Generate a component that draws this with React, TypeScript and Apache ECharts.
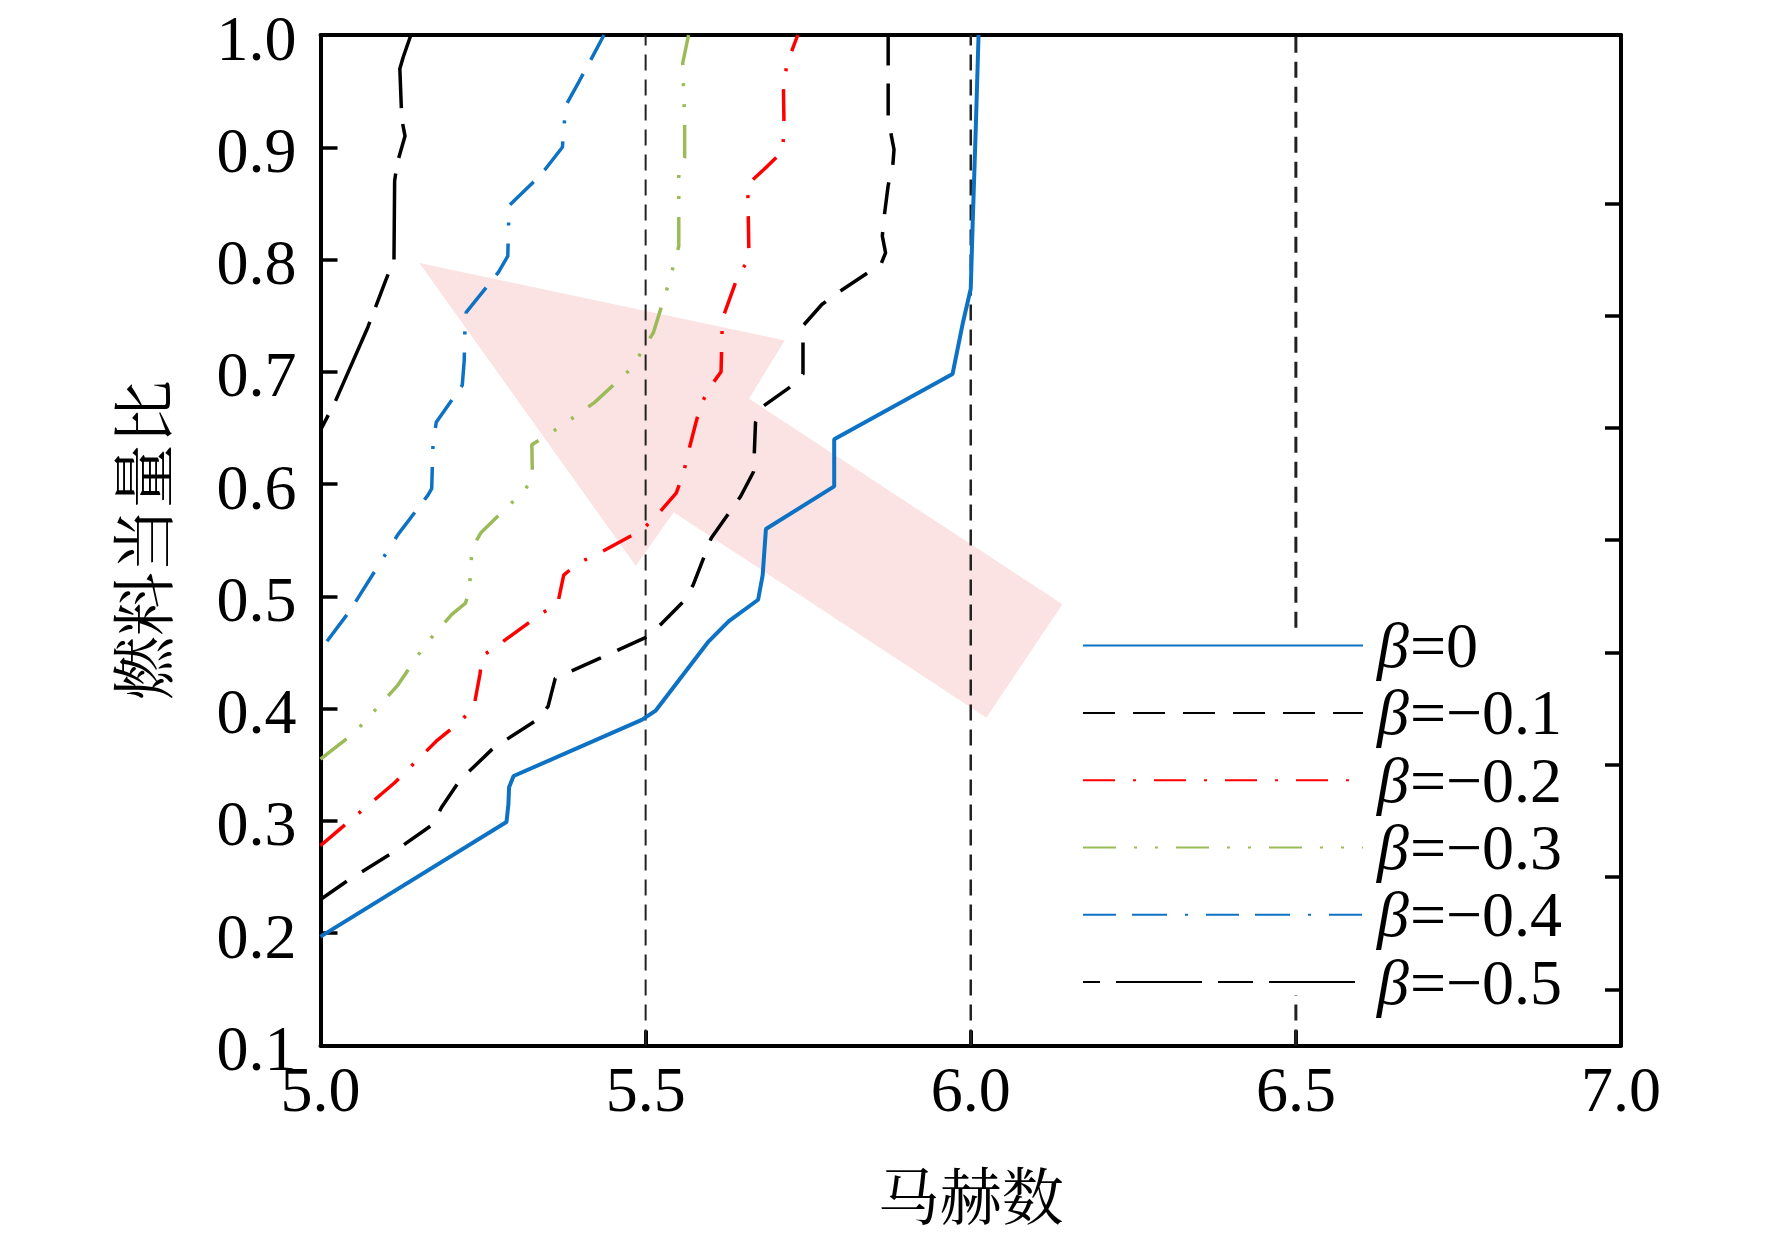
import React, { useEffect, useRef } from "react";
import * as echarts from "echarts";

// ---- data (Mach number, fuel equivalence ratio) ----
const beta0: number[][] = [
  [5.0, 0.197], [5.286, 0.299], [5.289, 0.315], [5.29, 0.33], [5.297, 0.34],
  [5.494, 0.39], [5.515, 0.398], [5.597, 0.46], [5.628, 0.478], [5.673, 0.497],
  [5.68, 0.519], [5.685, 0.56], [5.79, 0.598], [5.79, 0.64], [5.972, 0.698],
  [5.988, 0.744], [6.0, 0.774], [6.003, 0.833], [6.008, 0.922], [6.012, 1.0],
];
const beta1: number[][] = [
  [5.0, 0.23], [5.042, 0.247], [5.109, 0.271], [5.173, 0.297], [5.186, 0.312],
  [5.214, 0.336], [5.266, 0.365], [5.333, 0.39], [5.35, 0.402], [5.361, 0.427],
  [5.43, 0.445], [5.502, 0.464], [5.525, 0.476], [5.559, 0.496], [5.573, 0.51],
  [5.601, 0.552], [5.646, 0.589], [5.666, 0.611], [5.669, 0.655], [5.68, 0.669],
  [5.721, 0.686], [5.742, 0.698], [5.742, 0.741], [5.771, 0.76], [5.797, 0.771],
  [5.862, 0.796], [5.869, 0.806], [5.864, 0.821], [5.867, 0.839], [5.873, 0.866],
  [5.88, 0.883], [5.882, 0.898], [5.878, 0.91], [5.873, 0.928], [5.873, 1.0],
];
const beta2: number[][] = [
  [5.0, 0.278], [5.114, 0.334], [5.178, 0.371], [5.216, 0.389], [5.236, 0.402],
  [5.245, 0.43], [5.249, 0.447], [5.274, 0.457], [5.338, 0.484], [5.365, 0.494],
  [5.374, 0.519], [5.397, 0.53], [5.424, 0.537], [5.494, 0.559], [5.517, 0.572],
  [5.547, 0.592], [5.558, 0.609], [5.565, 0.627], [5.577, 0.654], [5.585, 0.671],
  [5.601, 0.688], [5.616, 0.7], [5.618, 0.747], [5.643, 0.787], [5.659, 0.8],
  [5.657, 0.867], [5.687, 0.883], [5.71, 0.896], [5.713, 0.914], [5.712, 0.95],
  [5.717, 0.974], [5.734, 1.0],
];
const beta3: number[][] = [
  [5.0, 0.355], [5.053, 0.379], [5.119, 0.421], [5.161, 0.457], [5.202, 0.484],
  [5.223, 0.494], [5.229, 0.506], [5.233, 0.543], [5.247, 0.557], [5.304, 0.589],
  [5.326, 0.603], [5.325, 0.635], [5.371, 0.652], [5.422, 0.673], [5.478, 0.703],
  [5.512, 0.735], [5.535, 0.778], [5.551, 0.812], [5.551, 0.876], [5.56, 0.891],
  [5.56, 0.925], [5.557, 0.975], [5.566, 1.0],
];
const beta4: number[][] = [
  [5.01, 0.46], [5.045, 0.487], [5.119, 0.555], [5.165, 0.59], [5.171, 0.596],
  [5.173, 0.635], [5.178, 0.655], [5.218, 0.688], [5.221, 0.71], [5.222, 0.735],
  [5.224, 0.753], [5.274, 0.789], [5.288, 0.803], [5.29, 0.848], [5.324, 0.867],
  [5.345, 0.88], [5.372, 0.9], [5.377, 0.937], [5.398, 0.959], [5.413, 0.975],
  [5.436, 1.0],
];
const beta5: number[][] = [
  [5.0, 0.648], [5.023, 0.674], [5.073, 0.74], [5.1, 0.781], [5.113, 0.8],
  [5.114, 0.87], [5.118, 0.886], [5.13, 0.91], [5.125, 0.925], [5.122, 0.97],
  [5.127, 0.98], [5.139, 1.0],
];

const seriesNames = ["β=0", "β=−0.1", "β=−0.2", "β=−0.3", "β=−0.4", "β=−0.5"];

// reference vertical lines (Mach)
const refLine55: number[][] = [[5.5, 0.1], [5.5, 1.0]];
const refLine60: number[][] = [[6.0, 0.1], [6.0, 1.0]];
const refLine65Low: number[][] = [[6.5, 0.1], [6.5, 0.145]];
const refLine65High: number[][] = [[6.5, 0.472], [6.5, 1.0]];

// pink arrow outline (in data coordinates)
const arrowPts: number[][] = [
  [5.152, 0.797], [5.714, 0.728], [5.659, 0.676], [6.141, 0.493],
  [6.024, 0.392], [5.543, 0.575], [5.485, 0.527],
];

const xTicks = { min: 5, max: 7, interval: 0.5 };
const yTicks = { min: 0.1, max: 1.0, interval: 0.1 };
const rightTicks = [0.15, 0.25, 0.35, 0.45, 0.55, 0.65, 0.75, 0.85];

const SERIF = "'Liberation Serif', 'Times New Roman', serif";
const CJK = "'Noto Serif CJK SC', 'Noto Sans CJK SC', serif";
const FS = 64;

export default function App() {
  const ref = useRef<HTMLDivElement>(null);

  useEffect(() => {
    if (!ref.current) return;
    const chart = echarts.init(ref.current, undefined, { renderer: "svg" });

    const mkLine = (name: string, data: number[][], color: string, type: any, width: number, offset = 0) => ({
      name,
      type: "line",
      data,
      symbol: "none",
      showSymbol: false,
      silent: true,
      z: 3,
      clip: true,
      lineStyle: { color, width, type, dashOffset: offset, cap: "butt" },
      itemStyle: { color },
      emphasis: { disabled: true },
    });

    const mkRef = (data: number[][], width: number) => ({
      type: "line",
      data,
      symbol: "none",
      silent: true,
      z: 2,
      lineStyle: { color: "#222", width, type: [16, 9] },
      emphasis: { disabled: true },
    });

    const option: any = {
      animation: false,
      backgroundColor: "#fff",
      grid: { left: 320.5, right: 151, top: 33, bottom: 195.5, containLabel: false },
      legend: {
        orient: "vertical",
        left: 1082,
        top: 613.6,
        padding: 0,
        itemWidth: 280,
        itemHeight: 14,
        itemGap: 3.3,
        selectedMode: false,
        data: seriesNames,
        itemStyle: { opacity: 0 },
        formatter: (name: string) => `{i|β}{t|${name.slice(1)}}`,
        textStyle: {
          fontFamily: SERIF,
          fontSize: FS,
          color: "#000",
          lineHeight: 60,
          rich: {
            i: { fontFamily: SERIF, fontStyle: "italic", fontSize: FS, lineHeight: 60, color: "#000", padding: [0, 1, 0, 9] },
            t: { fontFamily: SERIF, fontSize: FS, lineHeight: 60, color: "#000" },
          },
        },
      },
      xAxis: [
        {
          type: "value",
          position: "bottom",
          min: xTicks.min,
          max: xTicks.max,
          interval: xTicks.interval,
          name: "马赫数",
          nameLocation: "middle",
          nameGap: 117,
          nameTextStyle: { fontFamily: CJK, fontSize: 62, color: "#000" },
          axisLine: { lineStyle: { color: "#000", width: 4 } },
          axisTick: { inside: true, length: 15, lineStyle: { color: "#000", width: 4 } },
          axisLabel: {
            formatter: (v: number) => v.toFixed(1),
            fontFamily: SERIF,
            fontSize: FS,
            color: "#000",
            margin: 12,
          },
          splitLine: { show: false },
        },
        {
          type: "value",
          position: "top",
          min: xTicks.min,
          max: xTicks.max,
          interval: xTicks.interval,
          axisLine: { lineStyle: { color: "#000", width: 4 } },
          axisTick: { show: false },
          axisLabel: { show: false },
          splitLine: { show: false },
        },
      ],
      yAxis: [
        {
          type: "value",
          position: "left",
          min: yTicks.min,
          max: yTicks.max,
          interval: yTicks.interval,
          name: "燃料当量比",
          nameLocation: "middle",
          nameGap: 150,
          nameRotate: 90,
          nameTextStyle: { fontFamily: CJK, fontSize: 64, color: "#000" },
          axisLine: { lineStyle: { color: "#000", width: 4 } },
          axisTick: { inside: true, length: 17, lineStyle: { color: "#000", width: 3.5 } },
          axisLabel: {
            formatter: (v: number) => `{a|${v.toFixed(1)}}`,
            color: "#000",
            margin: 24,
            rich: {
              a: { fontFamily: SERIF, fontSize: FS, lineHeight: 48, padding: [6, 0, 0, 0], color: "#000" },
            },
          },
          splitLine: { show: false },
        },
        {
          type: "value",
          position: "right",
          min: yTicks.min,
          max: yTicks.max,
          interval: yTicks.interval,
          axisLine: { show: true, lineStyle: { color: "#000", width: 4 } },
          axisTick: { show: true, inside: true, length: 16, customValues: rightTicks, lineStyle: { color: "#000", width: 3.5 } },
          axisLabel: { show: false },
          splitLine: { show: false },
        },
      ],
      series: [
        {
          type: "custom",
          silent: true,
          z: 1,
          data: [arrowPts[0]],
          encode: { x: 0, y: 1 },
          renderItem: (params: any, api: any) => {
            const pts = arrowPts.map((p) => api.coord(p));
            return { type: "polygon", shape: { points: pts }, style: { fill: "#fce3e3" } };
          },
        },
        mkRef(refLine55, 2),
        mkRef(refLine60, 2.5),
        mkRef(refLine65Low, 3),
        mkRef(refLine65High, 3),
        mkLine(seriesNames[0], beta0, "#0e72c4", "solid", 4),
        mkLine(seriesNames[1], beta1, "#000000", [32, 18], 3.5),
        mkLine(seriesNames[2], beta2, "#ff0000", [32, 18, 3, 18], 3.5),
        mkLine(seriesNames[3], beta3, "#9bbb59", [33, 18, 3, 18, 3, 18], 3.5),
        mkLine(seriesNames[4], beta4, "#0e72c4", [33, 16, 35, 18, 3, 18], 3.5),
        mkLine(seriesNames[5], beta5, "#000000", [86, 16, 35, 16], 3.5, 120),
      ],
    };

    chart.setOption(option);
    return () => chart.dispose();
  }, []);

  return (
    <div
      ref={ref}
      style={{ position: "fixed", left: 0, top: 0, width: 1772, height: 1241, background: "#fff" }}
    />
  );
}
